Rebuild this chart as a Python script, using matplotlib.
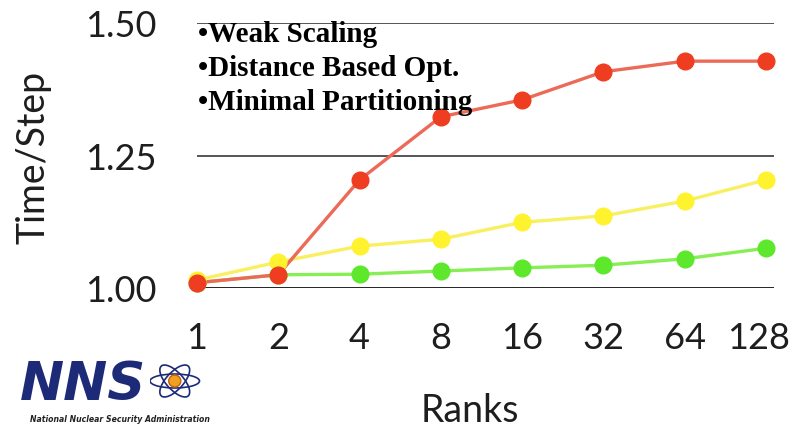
import matplotlib.pyplot as plt
from matplotlib import font_manager
from matplotlib.transforms import ScaledTranslation
from matplotlib.patches import Ellipse

# Weak scaling: time per step vs. number of ranks
ranks = ['1', '2', '4', '8', '16', '32', '64', '128']
weak_scaling = [1.010, 1.025, 1.204, 1.323, 1.355, 1.408, 1.428, 1.428]
distance_opt = [1.015, 1.049, 1.079, 1.092, 1.124, 1.136, 1.164, 1.204]
minimal_part = [1.010, 1.025, 1.026, 1.032, 1.038, 1.043, 1.055, 1.075]
yticks = [1.00, 1.25, 1.50]
notes = ['Weak Scaling', 'Distance Based Opt.', 'Minimal Partitioning']

# prefer a narrow face for the axis text if there is one
try:
    font_manager.findfont('Liberation Sans Narrow', fallback_to_default=False)
    label_font = ['Liberation Sans Narrow', 'DejaVu Sans']
    tick_size = 29
except ValueError:
    label_font = ['Lato', 'DejaVu Sans']
    tick_size = 26
label_color = '#1e1e1e'

fig = plt.figure(figsize=(7.95, 4.35), dpi=100)
ax = fig.add_axes([197 / 795, 1 - 289 / 435, 577 / 795, 265 / 435])

x = list(range(len(ranks)))

series = [
    (minimal_part, '#88ee55', '#5de82b'),
    (distance_opt, '#f8f060', '#fff22e'),
    (weak_scaling, '#ec6a58', '#ee3d20'),
]
for vals, lc, mc in series:
    ax.plot(x, vals, color=lc, lw=2.4, zorder=3, clip_on=False)
    ax.plot(x, vals, ls='none', marker='o', ms=12, mfc=mc, mec=mc,
            zorder=4, clip_on=False)

# horizontal reference lines
ax.axhline(1.00, color='#111111', lw=2.0, zorder=2)
for v in yticks[1:]:
    ax.axhline(v, color='#555555', lw=1.4, zorder=1)

ax.set_xlim(0, 7.1)
ax.set_ylim(1.0, 1.5)
ax.set_xticks(x)
ax.set_xticklabels(ranks)
ax.set_yticks(yticks)
ax.set_yticklabels(['%.2f' % v for v in yticks])
for s in ax.spines.values():
    s.set_visible(False)
ax.tick_params(length=0, labelsize=tick_size, labelcolor=label_color)
ax.tick_params(axis='y', pad=29)
ax.tick_params(axis='x', pad=24)
for t in ax.get_xticklabels() + ax.get_yticklabels():
    t.set_family(label_font)
# keep the last rank label inside the figure
last = ax.get_xticklabels()[-1]
last.set_transform(last.get_transform()
                   + ScaledTranslation(-5 / 72, 0, fig.dpi_scale_trans))

fig.text(470 / 795, 1 - 411 / 435, 'Ranks', fontsize=tick_size + 1,
         color=label_color, family=label_font, ha='center', va='center')
fig.text(33 / 795, 1 - 157 / 435, 'Time/Step', rotation=90,
         fontsize=tick_size + 1, color=label_color, family=label_font,
         ha='center', va='center')

# bullet notes in the upper left of the plot area
for i, note in enumerate(notes):
    fig.text(198 / 795, 1 - (34 + 34.5 * i) / 435, '•' + note,
             fontsize=21, fontweight='bold', family='Liberation Serif',
             color='black', va='center', ha='left', zorder=10)

# NNSA logo
navy = '#1c2a78'
fig.text(20 / 795, 1 - 385 / 435, 'NNS', fontsize=38, fontweight='heavy',
         style='italic', family='DejaVu Sans', color=navy, va='center',
         ha='left')
logo = fig.add_axes([150 / 795, 1 - 402 / 435, 55 / 795, 40 / 435])
logo.set_xlim(0, 1)
logo.set_ylim(0, 1)
logo.axis('off')
for ang in (0, 60, 120):
    logo.add_patch(Ellipse((0.45, 0.5), 0.9, 0.35, angle=ang, fill=False,
                           ec=navy, lw=1.2))
logo.add_patch(Ellipse((0.45, 0.5), 0.22, 0.3, fc='#f0a020', ec='#c06010'))
fig.text(30 / 795, 1 - 420 / 435, 'National Nuclear Security Administration',
         fontsize=5.6, fontweight='bold', style='italic', color='#222222',
         family='DejaVu Sans', va='center', ha='left')

fig.savefig('out.png', dpi=100)
